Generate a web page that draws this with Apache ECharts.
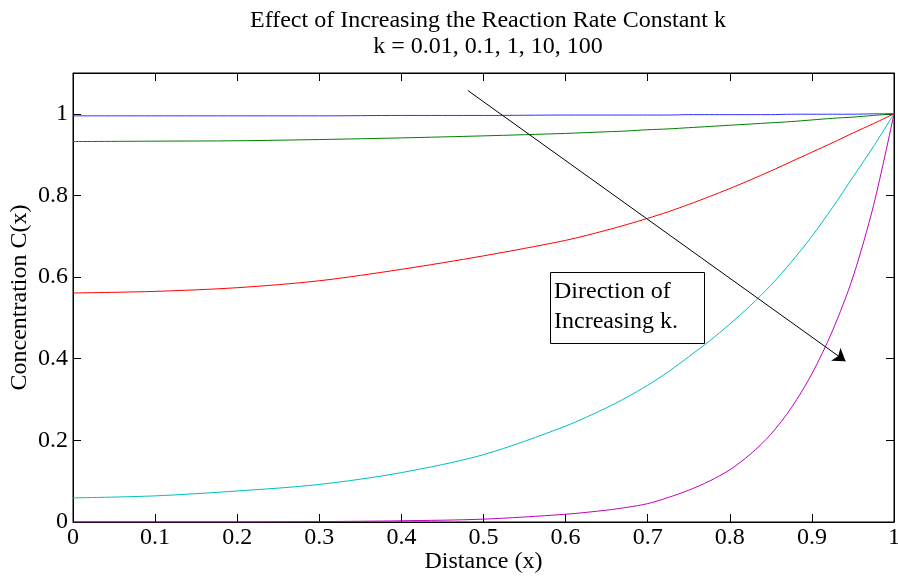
<!DOCTYPE html>
<html>
<head>
<meta charset="utf-8">
<script src="https://cdn.jsdelivr.net/npm/echarts@6/dist/echarts.min.js"></script>
<style>
  html, body { margin: 0; padding: 0; background: #fff; }
  #chart { width: 898px; height: 581px; }
</style>
</head>
<body>
<div id="chart"></div>
<script>
// 距离 x（各条曲线共用）
const xs = [0, 0.1, 0.2, 0.3, 0.4, 0.5, 0.6, 0.65, 0.675, 0.7, 0.725, 0.75, 0.775, 0.8, 0.825, 0.85, 0.875, 0.9, 0.925, 0.95, 0.975, 1]
// 浓度值
const cK001 = [0.995, 0.995, 0.995, 0.995, 0.996, 0.996, 0.997, 0.997, 0.997, 0.997, 0.997, 0.998, 0.998, 0.998, 0.998, 0.998, 0.999, 0.999, 0.999, 0.999, 1.0, 1.0]
const cK01 = [0.932, 0.933, 0.934, 0.937, 0.941, 0.946, 0.952, 0.956, 0.958, 0.961, 0.963, 0.966, 0.969, 0.972, 0.975, 0.978, 0.981, 0.985, 0.989, 0.992, 0.996, 1.0]
const cK1 = [0.561, 0.565, 0.574, 0.591, 0.619, 0.652, 0.690, 0.715, 0.729, 0.744, 0.760, 0.778, 0.797, 0.817, 0.838, 0.860, 0.883, 0.906, 0.929, 0.953, 0.976, 1.0]
const cK10 = [0.059, 0.064, 0.076, 0.092, 0.121, 0.165, 0.235, 0.280, 0.306, 0.335, 0.368, 0.405, 0.443, 0.485, 0.530, 0.580, 0.637, 0.700, 0.770, 0.845, 0.920, 1.0]
const cK100 = [0, 0, 0, 0.001, 0.003, 0.007, 0.019, 0.029, 0.036, 0.045, 0.060, 0.078, 0.100, 0.128, 0.166, 0.215, 0.280, 0.363, 0.468, 0.600, 0.775, 1.0]
const seriesNames = ['k = 0.01', 'k = 0.1', 'k = 1', 'k = 10', 'k = 100']
const seriesColors = ['#3030ff', '#008000', '#ff0000', '#00bfbf', '#bf00bf']
// 箭头起止点（数据坐标）
const arrowFrom = [0.481, 1.057]
const arrowTo = [0.941, 0.394]

const font = 'Liberation Serif'
const fontSize = 24
const chart = echarts.init(document.getElementById('chart'))

const allValues = [cK001, cK01, cK1, cK10, cK100]
const series = allValues.map((vals, i) => ({
  name: seriesNames[i],
  type: 'line',
  showSymbol: false,
  smooth: 0.3,
  animation: false,
  lineStyle: { width: 1, color: seriesColors[i] },
  itemStyle: { color: seriesColors[i] },
  data: xs.map((x, j) => [x, vals[j]])
}))

// 方向箭头
series.push({
  type: 'line',
  data: [],
  animation: false,
  markLine: {
    silent: true,
    animation: false,
    symbol: ['none', 'arrow'],
    symbolSize: 12,
    label: { show: false },
    lineStyle: { color: '#000', width: 1, type: 'solid' },
    data: [[{ coord: arrowFrom }, { coord: arrowTo }]]
  }
})

// 刻度朝内，轴线不跟随 0 点
function tick() {
  return { show: true, inside: true, length: 8, lineStyle: { color: '#000', width: 1 } }
}
function line() {
  return { show: true, onZero: false, lineStyle: { color: '#000', width: 1 } }
}

const option = {
  backgroundColor: '#fff',
  animation: false,
  title: {
    text: 'Effect of Increasing the Reaction Rate Constant k\nk = 0.01, 0.1, 1, 10, 100',
    left: 483,
    top: 3,
    textAlign: 'center',
    textStyle: {
      fontFamily: font,
      fontSize: fontSize,
      fontWeight: 'normal',
      color: '#000',
      lineHeight: 26
    }
  },
  grid: {
    left: 73,
    right: 4,
    top: 73,
    bottom: 59,
    outerBoundsMode: 'none',
    containLabel: false,
    show: true,
    borderColor: '#000',
    borderWidth: 1
  },
  xAxis: [{
    type: 'value',
    position: 'bottom',
    min: 0,
    max: 1,
    interval: 0.1,
    name: 'Distance (x)',
    nameLocation: 'middle',
    nameGap: 28,
    nameMoveOverlap: false,
    nameTextStyle: { fontFamily: font, fontSize: fontSize, color: '#000' },
    axisLine: line(),
    axisTick: tick(),
    splitLine: { show: false },
    axisLabel: {
      fontFamily: font, fontSize: fontSize, color: '#000', margin: 4,
      formatter: v => String(+v.toFixed(1))
    }
  }, {
    type: 'value',
    position: 'top',
    min: 0,
    max: 1,
    interval: 0.1,
    axisLine: line(),
    axisTick: tick(),
    axisLabel: { show: false },
    splitLine: { show: false }
  }],
  yAxis: [{
    type: 'value',
    position: 'left',
    min: 0,
    max: 1.1,
    interval: 0.2,
    name: 'Concentration C(x)',
    nameLocation: 'middle',
    nameGap: 41,
    nameMoveOverlap: false,
    nameTextStyle: { fontFamily: font, fontSize: fontSize, color: '#000' },
    axisLine: line(),
    axisTick: tick(),
    splitLine: { show: false },
    axisLabel: {
      fontFamily: font, fontSize: fontSize, color: '#000', margin: 5,
      showMaxLabel: false,
      formatter: v => String(+v.toFixed(1))
    }
  }, {
    type: 'value',
    position: 'right',
    min: 0,
    max: 1.1,
    interval: 0.2,
    axisLine: line(),
    axisTick: tick(),
    axisLabel: { show: false },
    splitLine: { show: false }
  }],
  graphic: [{
    type: 'rect',
    shape: { x: 550.5, y: 272.5, width: 154, height: 71 },
    style: { fill: '#fff', stroke: '#000', lineWidth: 1 },
    z: 100
  }, {
    type: 'text',
    x: 554,
    y: 277,
    style: {
      text: 'Direction of\nIncreasing k.',
      fontFamily: font,
      fontSize: fontSize,
      lineHeight: 30,
      fill: '#000'
    },
    z: 101
  }],
  series: series
}

chart.setOption(option)
</script>
</body>
</html>
